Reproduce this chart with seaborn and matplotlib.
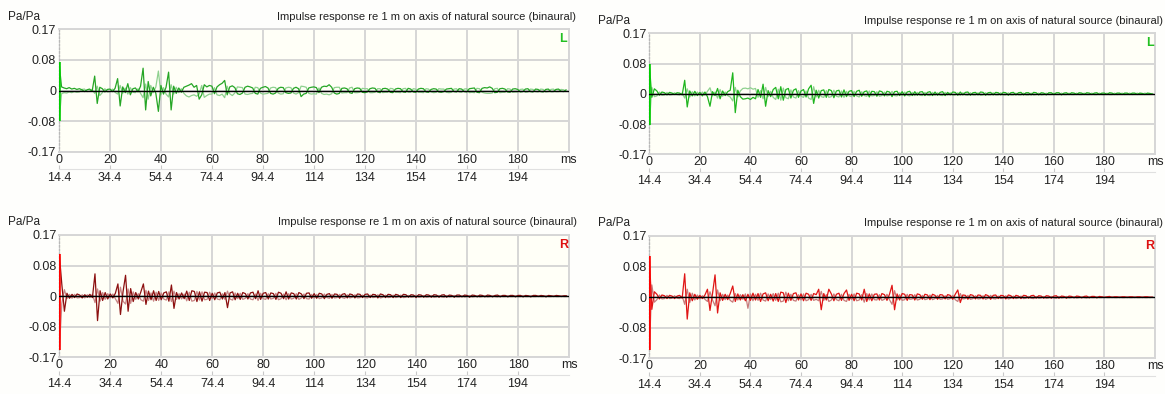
import numpy as np
import pandas as pd
import seaborn as sns
import matplotlib
matplotlib.use("Agg")
import matplotlib.pyplot as plt

# ---- data (values in 1/1000 Pa/Pa, sampled every 1 ms) ----
ms = list(range(200))

x_ticks = [0, 20, 40, 60, 80, 100, 120, 140, 160, 180, 200]
x_labels = ["0", "20", "40", "60", "80", "100", "120", "140", "160", "180", "ms"]
x2_ticks = [0, 20, 40, 60, 80, 100, 120, 140, 160, 180]
x2_labels = ["14.4", "34.4", "54.4", "74.4", "94.4", "114", "134", "154", "174", "194"]
y_ticks = [-0.17, -0.085, 0, 0.085, 0.17]
y_labels = ["-0.17", "-0.08", "0", "0.08", "0.17"]
title = "Impulse response re 1 m on axis of natural source (binaural)"

# direct sound bar (top, bottom) per panel
direct_L1 = [78, -86]
direct_L2 = [83, -88]
direct_R1 = [116, -150]
direct_R2 = [115, -148]

L1_dark = [
    78, 10, 7, 5, 8, 4, 6, 3, 5, 2,
    -3, 2, 4, -2, 40, -36, 9, 5, -4, 3,
    4, -3, 6, 33, -43, 10, -6, 19, -12, 5,
    7, -4, 12, 62, -54, 25, -15, 9, -8, -58,
    14, -10, 9, 51, -54, 12, -8, 7, -5, 9,
    12, 15, 19, 9, 14, -24, -12, 16, 10, 14,
    12, -9, 10, 16, 20, 28, -12, 10, 13, 8,
    -9, -11, -7, 9, 12, 10, 7, -8, -10, 6,
    9, 11, 7, -8, -10, -7, 6, 9, 8, -6,
    -8, -7, 6, 9, 5, -17, -10, -8, 7, 9,
    10, 8, -6, 9, 12, 11, 16, 9, -7, -10,
    -8, 6, 7, 5, -6, -8, 5, 7, 6, -5,
    -6, -4, 5, 7, 6, -4, -6, 5, 6, 4,
    -5, -6, 4, 6, 5, -4, -5, 6, 4, -4,
    -5, 4, 6, 5, -4, -5, 3, 5, 4, -4,
    -5, -3, 4, 5, 6, -3, -4, 5, 4, -3,
    -4, 5, 6, 7, -5, -6, 6, 8, 7, 10,
    6, -6, -5, 5, 6, 4, -4, -5, 4, 5,
    3, -4, -3, 4, 5, -3, -4, 4, 3, -3,
    -4, 3, 4, -3, -3, 3, 4, -2, -3, 2,
]
L1_light = [
    -86, -9, -6, -7, -4, -6, -3, -5, -4, 3,
    4, -3, -2, 3, -8, 12, -14, -6, 5, -4,
    -3, 4, -5, -10, 14, -8, 7, -10, 8, -5,
    -6, 5, -8, -20, 18, -24, 14, -6, 10, 54,
    -12, 8, -10, -18, 16, -10, 9, -6, 5, -8,
    -15, -18, -14, -12, -16, -10, 14, -19, -14, -10,
    -10, 8, -12, -14, -10, -20, 12, -9, -14, -7,
    10, 9, 8, -10, -11, -9, -8, 9, 8, -7,
    -10, -9, -8, 7, 9, 8, -7, -10, -9, 7,
    9, 8, -7, -10, -6, 12, 11, 9, -8, -10,
    -9, -10, 7, -8, -11, -10, -12, -9, 8, 9,
    9, -7, -6, -6, 7, 9, -6, -6, -5, 6,
    5, 5, -6, -6, -5, 5, 5, -6, -5, -5,
    6, 5, -5, -5, -6, 5, 6, -5, -5, 5,
    4, -5, -5, -6, 5, 4, -4, -6, -5, 5,
    4, 4, -5, -6, -5, 4, 5, -4, -5, 4,
    5, -6, -5, -6, 6, 5, -5, -7, -8, -8,
    -7, 5, 6, -6, -5, -5, 5, 4, -5, -4,
    -4, 3, 4, -5, -4, 4, 3, -3, -4, 4,
    3, -4, -3, 3, 4, -3, -3, 3, 2, -2,
]
L2_dark = [
    83, -10, 14, 8, -4, 5, 3, -3, 4, 2,
    -2, 3, 2, -3, 38, -37, 8, -6, 7, -5,
    4, -6, 5, -8, -35, 6, -5, 15, -14, 8,
    -5, 6, 10, 59, -53, 10, -8, -15, -14, -12,
    -16, -10, -14, 12, -10, 27, -35, 9, -8, 12,
    18, -14, 20, -18, 12, 15, -12, 10, 14, -10,
    8, 12, -9, 14, 24, -27, 10, -12, 9, 11,
    -10, 12, 9, -11, 8, 10, -9, 11, -8, 7,
    9, -8, 7, 10, -7, 6, 8, -9, 7, 6,
    -7, 8, 6, -6, 7, 5, -8, 6, 7, -5,
    6, -6, 5, 7, -5, 6, -4, 5, 6, -5,
    4, 6, -5, 5, -4, 4, 6, -5, 4, -3,
    5, 4, -4, 5, -3, 4, 5, -4, 3, 4,
    -3, 5, 4, -4, 3, 4, -3, 4, 3, -3,
    4, 3, -4, 3, 4, -3, 3, 4, -3, 3,
    3, -3, 4, 3, -3, 3, 2, -3, 3, 3,
    -2, 3, 3, -3, 2, 3, -2, 3, 2, -2,
    3, 2, -2, 3, 2, -2, 2, 3, -2, 2,
    2, -2, 3, 2, -2, 2, 2, -2, 2, 2,
    -2, 2, 2, -2, 2, 1, -2, 2, 1, -1,
]
L2_light = [
    -88, 18, -8, -6, 5, -4, -3, 4, -3, -2,
    3, -2, -3, 2, -12, 14, -9, 6, -6, 5,
    -4, 5, -4, 7, 17, -6, 5, -12, 12, -7,
    5, -5, -9, -20, 18, -9, 8, 15, 16, 14,
    17, 13, 15, -10, 9, -14, 18, -8, 7, -10,
    -16, 13, -18, 16, -11, -14, 11, -9, -12, 9,
    -7, -10, 8, -12, -16, 20, -9, 10, -8, -10,
    9, -10, -8, 10, -7, -9, 8, -10, 7, -6,
    -8, 7, -6, -9, 6, -5, -7, 8, -6, -5,
    6, -7, -5, 5, -6, -4, 7, -5, -6, 4,
    -5, 5, -4, -6, 4, -5, 4, -4, -5, 4,
    -4, -5, 4, -4, 3, -4, -5, 4, -3, 3,
    -4, -3, 3, -4, 3, -3, -4, 3, -3, -3,
    3, -4, -3, 3, -3, -3, 3, -3, -3, 3,
    -3, -3, 3, -3, -3, 2, -3, -3, 2, -3,
    -3, 2, -3, -2, 2, -3, -2, 2, -2, -2,
    2, -2, -2, 2, -2, -2, 2, -2, -2, 2,
    -2, -2, 2, -2, -2, 2, -2, -2, 2, -2,
    -2, 2, -2, -2, 2, -2, -1, 2, -2, -1,
    2, -2, -1, 2, -1, -1, 2, -1, -1, 1,
]
R1_dark = [
    116, 32, -42, 8, -6, 5, -4, 6, 3, -5,
    4, -3, 5, -4, 62, -68, 15, -12, 10, -8,
    6, -5, 8, 34, -51, 12, 58, -42, 21, -15,
    10, -8, 12, 34, -23, 14, -10, 15, -12, 13,
    -10, 9, 12, -14, 31, -34, 10, -8, 9, -7,
    14, -12, 15, 13, -15, 12, -14, 11, 10, -12,
    8, -10, 9, 11, -8, 10, -32, 9, 12, -10,
    8, -9, 10, 7, -8, 9, 11, -7, 15, -9,
    8, 10, -8, 9, 7, -9, 11, 8, -7, 12,
    -8, 9, 7, -8, 10, 6, -7, 8, 9, -6,
    7, -6, 8, 6, -7, 5, 7, -6, 6, 5,
    -6, 5, 7, -5, 6, 4, -5, 6, 5, -4,
    5, 6, -4, 5, 4, -5, 6, 4, -4, 5,
    4, -4, 5, 3, -4, 5, 4, -3, 4, 3,
    -4, 4, 3, -3, 4, 3, -3, 4, 3, -3,
    3, 4, -3, 3, 2, -3, 3, 3, -2, 3,
    2, -3, 3, 2, -2, 3, 2, -2, 3, 2,
    -2, 2, 3, -2, 2, 2, -2, 2, 2, -2,
    2, 2, -2, 2, 1, -2, 2, 2, -1, 2,
    1, -2, 2, 1, -1, 2, 1, -1, 1, 1,
]
R1_light = [
    -150, -20, 18, -7, 5, -6, 5, -5, -4, 4,
    -5, 4, -4, 5, -18, 20, -14, 10, -9, 7,
    -5, 6, -7, -20, 25, -14, -22, 20, -20, 12,
    -9, 7, -10, -14, 16, -12, 9, -14, 11, -12,
    9, -8, -11, 12, -15, 14, -9, 7, -8, 6,
    -13, 11, -14, -12, 13, -11, 12, -10, -9, 11,
    -7, 9, -8, -10, 7, -9, 14, -8, -11, 9,
    -7, 8, -9, -6, 7, -8, -10, 6, -12, 8,
    -7, -9, 7, -8, -6, 8, -10, -7, 6, -10,
    7, -8, -6, 7, -9, -5, 6, -7, -8, 5,
    -6, 5, -7, -5, 6, -4, -6, 5, -5, -4,
    5, -4, -6, 4, -5, -3, 4, -5, -4, 3,
    -4, -5, 3, -4, -3, 4, -5, -3, 3, -4,
    -3, 3, -4, -2, 3, -4, -3, 2, -3, -2,
    3, -3, -2, 2, -3, -2, 2, -3, -2, 2,
    -2, -3, 2, -2, -1, 2, -2, -2, 1, -2,
    -1, 2, -2, -1, 1, -2, -1, 1, -2, -1,
    1, -1, -2, 1, -1, -1, 1, -1, -1, 1,
    -1, -1, 1, -1, -1, 1, -1, -1, 1, -1,
    -1, 1, -1, -1, 1, -1, -1, 1, -1, -1,
]
R2_dark = [
    115, -34, 15, 8, -5, 6, 4, -4, 5, 3,
    -4, 3, 5, -3, 65, -61, 12, -10, 8, -6,
    5, -4, 6, 22, -37, 10, 62, -44, 12, -9,
    8, -7, 10, 31, -12, 9, -8, 7, -10, 8,
    -9, 11, -8, 10, -12, 9, 12, -10, 8, -11,
    10, -12, 14, 12, -15, 11, -9, 10, 12, -8,
    9, -10, 11, 8, -9, 10, 7, 22, -35, 10,
    -8, 22, 9, -10, 8, 11, -9, 10, 20, -9,
    8, -10, 11, 9, -8, 22, -12, 9, -10, 8,
    9, -8, 10, 7, -9, 8, 33, -35, 9, -8,
    10, 8, -9, 7, 6, -8, 9, 7, -6, 8,
    6, -7, 8, 5, -6, 7, 6, -5, 7, 5,
    -6, 8, 20, -15, 6, 5, -6, 7, 5, -5,
    6, 5, -5, 7, 4, -6, 5, 6, -4, 5,
    4, -5, 6, 4, -4, 5, 3, -4, 5, 4,
    -3, 4, 5, -3, 4, 3, -3, 4, 3, -3,
    3, 4, -3, 3, 2, -3, 3, 2, -2, 3,
    2, -2, 2, 3, -2, 2, 2, -2, 2, 1,
    -1, 1, 2, -1, 1, 1, -1, 1, 1, -1,
    1, 1, -1, 1, 1, -1, 1, 1, -1, 0,
]
R2_light = [
    -148, 34, -14, -7, 6, -5, -4, 5, -4, -3,
    4, -3, -4, 3, -20, 22, -15, 11, -8, 6,
    -5, 4, -6, -12, 15, -8, -24, 20, -10, 8,
    -7, 6, -9, -14, 10, -8, 7, -6, 9, -31,
    9, -10, 8, -9, 11, -8, -11, 9, -7, 10,
    -9, 11, -13, -11, 14, -10, 8, -9, -11, 7,
    -8, 9, -10, -7, 8, -9, -6, -10, 16, -9,
    7, -12, -8, 9, -7, -10, 8, -9, -12, 8,
    -7, 9, -10, -8, 7, -14, 10, -8, 9, -7,
    -8, 7, -9, -6, 8, -7, -20, 18, -8, 7,
    -9, -7, 8, -6, -5, 7, -8, -6, 5, -7,
    -5, 6, -7, -4, 5, -6, -5, 4, -6, -4,
    5, -7, -12, 10, -5, -4, 5, -6, -4, 4,
    -5, -4, 4, -6, -3, 5, -4, -5, 3, -4,
    -3, 4, -5, -3, 3, -4, -2, 3, -4, -3,
    2, -3, -4, 2, -3, -2, 2, -3, -2, 2,
    -2, -3, 2, -2, -1, 2, -2, -1, 1, -2,
    -1, 1, -1, -2, 1, -1, -1, 1, -1, -1,
    1, -1, -1, 1, -1, -1, 1, -1, -1, 1,
    -1, -1, 1, -1, -1, 1, -1, -1, 1, 0,
]

# ---- layout (pixel boxes: left, top, right, bottom) ----
W, H = 1165, 394
panels = [
    dict(box=(59, 29.3, 568.7, 151.7), dark=L1_dark, light=L1_light, direct=direct_L1,
         tag="L", colors=("#26a626", "#8fd18f", "#00cc00")),
    dict(box=(649.3, 33.3, 1155, 154.3), dark=L2_dark, light=L2_light, direct=direct_L2,
         tag="L", colors=("#1fb51f", "#8fd18f", "#00cc00")),
    dict(box=(59.3, 235, 569, 357.3), dark=R1_dark, light=R1_light, direct=direct_R1,
         tag="R", colors=("#8c1010", "#c88585", "#ff0000")),
    dict(box=(649.3, 236, 1155, 358.3), dark=R2_dark, light=R2_light, direct=direct_R2,
         tag="R", colors=("#e01515", "#c87c7c", "#ff0000")),
]
tag_colors = {"L": "#22c022", "R": "#dd1111"}

sns.set_style("white")
plt.rcParams["font.family"] = ["Liberation Sans", "DejaVu Sans"]

fig = plt.figure(figsize=(W / 100, H / 100), dpi=100, facecolor="#fefefc")
grid_c = "#d6d6d6"
txt_c = "#222222"

for p in panels:
    l, t, r, b = p["box"]
    ax = fig.add_axes([l / W, 1 - b / H, (r - l) / W, (b - t) / H])
    ax.set_facecolor("#fffff7")

    df = pd.DataFrame({
        "ms": ms + ms,
        "val": [v / 1000 for v in p["light"]] + [v / 1000 for v in p["dark"]],
        "trace": ["light"] * len(ms) + ["dark"] * len(ms),
    })
    sns.lineplot(data=df, x="ms", y="val", hue="trace", estimator=None,
                 palette={"dark": p["colors"][0], "light": p["colors"][1]},
                 linewidth=0.9, legend=False, ax=ax, zorder=2)
    ax.vlines(0, p["direct"][1] / 1000, p["direct"][0] / 1000,
              color=p["colors"][2], linewidth=2.6, zorder=3)
    ax.axhline(0, color="black", linewidth=1.0, zorder=4)

    ax.set_xlim(0, 200)
    ax.set_ylim(-0.17, 0.17)
    ax.set_xticks(x_ticks)
    ax.set_xticklabels(x_labels)
    ax.set_yticks(y_ticks)
    ax.set_yticklabels(y_labels)
    ax.set_xlabel("")
    ax.set_ylabel("")
    ax.grid(True, color=grid_c, linewidth=1.4, zorder=0)
    ax.set_axisbelow(True)
    ax.tick_params(axis="both", length=0, labelsize=9, labelcolor=txt_c)
    ax.tick_params(axis="x", pad=1.5)
    ax.tick_params(axis="y", pad=2)
    for s in ["top", "bottom", "right"]:
        ax.spines[s].set_color(grid_c)
        ax.spines[s].set_linewidth(1.4)
    ax.spines["left"].set_color("#b8b8b8")
    ax.spines["left"].set_linestyle(":")
    ax.spines["left"].set_linewidth(1.0)

    sec = ax.secondary_xaxis(-17.5 / (b - t))
    sec.set_xticks(x2_ticks)
    sec.set_xticklabels(x2_labels)
    sec.tick_params(length=3, direction="in", color="#c8c8c8", labelsize=9,
                    labelcolor=txt_c, pad=2)
    sec.spines["bottom"].set_color("#e0e0e0")

    fig.text((l - 51) / W, 1 - (t - 12.6) / H, "Pa/Pa", fontsize=8.5, color=txt_c,
             ha="left", va="center")
    fig.text((r + 7.5) / W, 1 - (t - 12.6) / H, title, fontsize=8, color=txt_c,
             ha="right", va="center")
    fig.text((r - 5.5) / W, 1 - (t + 9.7) / H, p["tag"], fontsize=9, fontweight="bold",
             color=tag_colors[p["tag"]], ha="center", va="center")

fig.savefig("out.png", dpi=100, facecolor=fig.get_facecolor())
